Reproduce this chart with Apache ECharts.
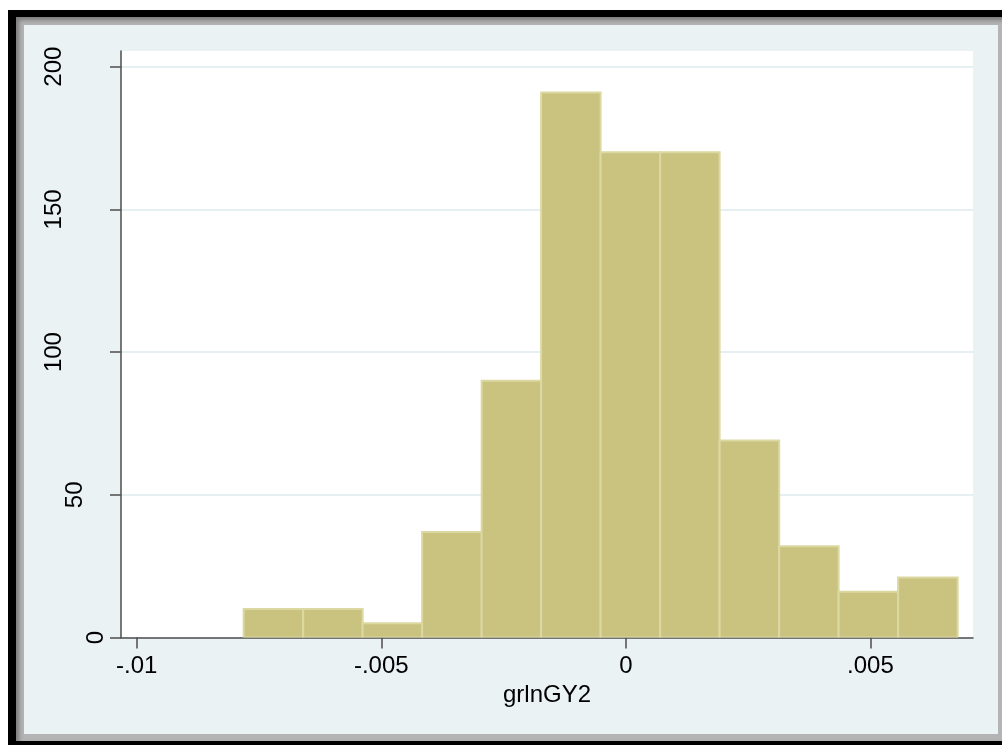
<!DOCTYPE html>
<html>
<head>
<meta charset="utf-8">
<script src="https://cdn.jsdelivr.net/npm/echarts@6/dist/echarts.min.js"></script>
<style>
  html, body { margin: 0; padding: 0; width: 1002px; height: 745px; overflow: hidden; background: #ffffff; }
  #outer { position: absolute; left: 8px; top: 10px; width: 1010px; height: 760px; background: #000000; }
  #bevel { position: absolute; left: 16px; top: 17px; width: 1000px; height: 724px; background: #b4b4b4;
           box-shadow: inset 3px 3px 4px #7a7a7a; }
  #panel { position: absolute; left: 24px; top: 25px; width: 974px; height: 709px; background: #eaf2f3; }
  #chart { position: absolute; left: 0; top: 0; width: 1002px; height: 745px; }
</style>
</head>
<body>
<div id="outer"></div>
<div id="bevel"></div>
<div id="panel"></div>
<div id="chart"></div>
<script>
// ---- data ----
const xAxisTitle = 'grlnGY2';
const xTickValues = [-0.01, -0.005, 0, 0.005];
const xTickLabels = ['-.01', '-.005', '0', '.005'];
const yTickValues = [0, 50, 100, 150, 200];
const yTickLabels = ['0', '50', '100', '150', '200'];
const binEdges = [-0.007814, -0.006597, -0.005381, -0.004165, -0.002948, -0.001732,
                  -0.000516, 0.000701, 0.001917, 0.003134, 0.004350, 0.005566, 0.006783];
const binCounts = [10, 10, 5, 37, 90, 191, 170, 170, 69, 32, 16, 21];

// ---- build ----
const histData = binCounts.map((c, i) => [binEdges[i], binEdges[i + 1], c]);
const FONT = '"Liberation Sans", Arial, Helvetica, sans-serif';
const axisColor = '#4d4d4d';

function labelFor(values, labels, v) {
  const i = values.findIndex(t => Math.abs(t - v) < 1e-9);
  return i >= 0 ? labels[i] : '';
}

const chart = echarts.init(document.getElementById('chart'), null, { renderer: 'canvas' });
chart.setOption({
  backgroundColor: 'transparent',
  animation: false,
  grid: {
    left: 121, top: 51, width: 852, height: 586.5,
    show: true, backgroundColor: '#ffffff', borderWidth: 0,
    containLabel: false, outerBoundsMode: 'none'
  },
  xAxis: {
    type: 'value',
    min: -0.010321, max: 0.007097,
    axisLine: { show: true, onZero: false, lineStyle: { color: axisColor, width: 1.5 } },
    axisTick: { show: true, customValues: xTickValues, length: 11, lineStyle: { color: axisColor, width: 1.5 } },
    axisLabel: {
      show: true, customValues: xTickValues, margin: 17,
      fontFamily: FONT, fontSize: 24, lineHeight: 24, color: '#000000',
      formatter: v => labelFor(xTickValues, xTickLabels, v)
    },
    splitLine: { show: false },
    name: xAxisTitle, nameLocation: 'middle', nameGap: 40,
    nameTextStyle: { fontFamily: FONT, fontSize: 24, lineHeight: 24, color: '#000000' }
  },
  yAxis: {
    type: 'value',
    min: 0, max: 205.5,
    axisLine: { show: true, onZero: false, lineStyle: { color: axisColor, width: 1.5 } },
    axisTick: { show: true, customValues: yTickValues, length: 11, lineStyle: { color: axisColor, width: 1.5 } },
    axisLabel: {
      show: true, customValues: yTickValues, rotate: 90, margin: 13,
      fontFamily: FONT, fontSize: 24, lineHeight: 24, color: '#000000',
      formatter: v => {
        const s = labelFor(yTickValues, yTickLabels, v);
        return '{p' + s.length + '|' + s + '}';
      },
      rich: {
        p1: { fontFamily: FONT, fontSize: 24, lineHeight: 24, color: '#000000', padding: [0, 0, 0, 0] },
        p2: { fontFamily: FONT, fontSize: 24, lineHeight: 24, color: '#000000', padding: [0, 0, 42, 0] },
        p3: { fontFamily: FONT, fontSize: 24, lineHeight: 24, color: '#000000', padding: [0, 0, 84, 0] }
      }
    },
    splitLine: { show: true, customValues: yTickValues, lineStyle: { color: '#e6eff2', width: 2 } }
  },
  series: [{
    type: 'custom',
    data: histData,
    encode: { x: [0, 1], y: 2 },
    clip: true,
    renderItem: function (params, api) {
      const x0 = api.value(0), x1 = api.value(1), c = api.value(2);
      const p0 = api.coord([x0, c]);
      const p1 = api.coord([x1, 0]);
      return {
        type: 'rect',
        shape: { x: p0[0], y: p0[1], width: p1[0] - p0[0], height: p1[1] - p0[1] },
        style: { fill: '#cac380', stroke: '#dcd8a2', lineWidth: 2 }
      };
    }
  }]
});
</script>
</body>
</html>
